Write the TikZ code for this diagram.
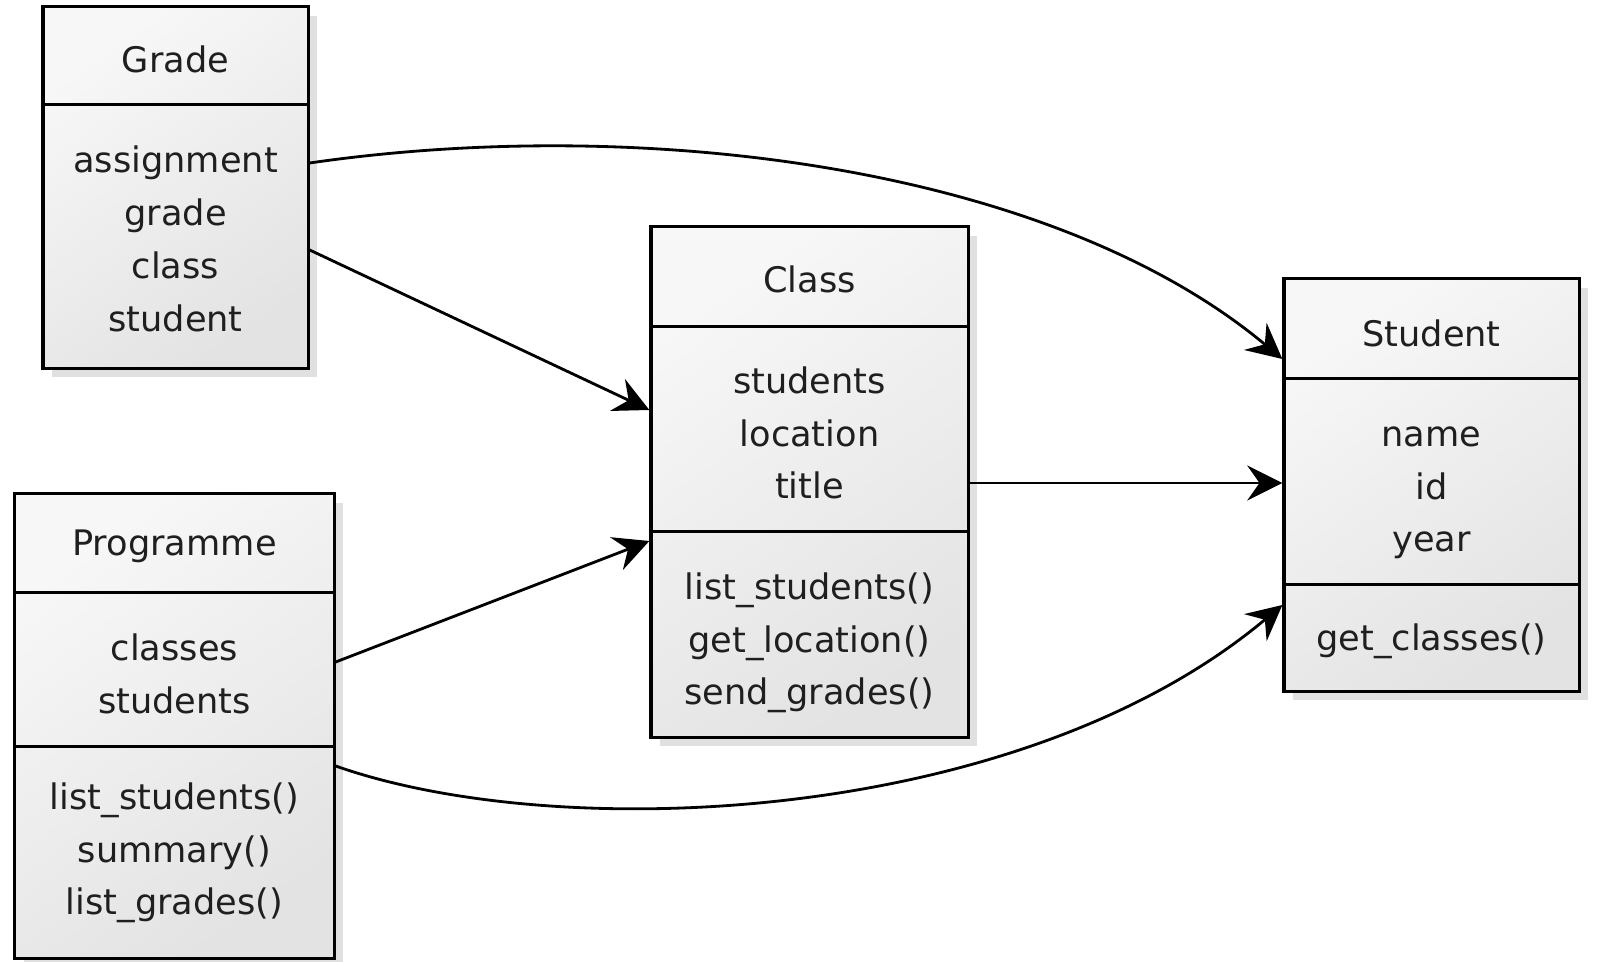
\documentclass[tikz,border=0pt]{standalone}
\usepackage{fontspec}
\setmainfont{DejaVu Sans}
\usetikzlibrary{arrows.meta,shadows,calc}
\newcommand{\classsep}[2]{\draw[sepline] ($(#1.north west)+(0,#2)$) -- ($(#1.north east)+(0,#2)$);}

\begin{document}
\begin{tikzpicture}[x=0.01cm,y=-0.01cm,
    classbox/.style={draw=black,line width=0.9pt,inner sep=0pt,
      top color=white!97!black,bottom color=white!89!black,shading angle=35,
      drop shadow={shadow xshift=2.5pt,shadow yshift=-2.5pt,opacity=.12,fill=black}},
    sepline/.style={black,line width=0.75pt},
    txt/.style={align=center,inner sep=0pt,text=black!88,font=\fontsize{10}{15}\selectfont},
    conn/.style={black,line width=0.8pt,-{Stealth[length=10pt,width=10pt,inset=3.5pt]}}]
    \useasboundingbox (0,0) rectangle (1601,962);

    % boxes
    \node[classbox,minimum width=2.65cm,minimum height=3.61cm] (grade) at (175.5,187.5) {};
    \node[classbox,minimum width=3.17cm,minimum height=5.10cm] (class) at (809.5,482) {};
    \node[classbox,minimum width=2.95cm,minimum height=4.12cm] (student) at (1431.5,485) {};
    \node[classbox,minimum width=3.19cm,minimum height=4.64cm] (programme) at (174.5,726) {};

    \classsep{grade}{99}
    \classsep{class}{101}
    \classsep{class}{306}
    \classsep{student}{101}
    \classsep{student}{307}
    \classsep{programme}{100}
    \classsep{programme}{254}

    % texts
    \node[txt] (gradename) at (175.5,59) {Grade};
    \node[txt] (gradeattr) at (175.5,239) {assignment\\grade\\class\\student};
    \node[txt] (classname) at (809.5,279) {Class};
    \node[txt] (classattr) at (809.5,433) {students\\location\\title};
    \node[txt] (classops) at (809.5,643) {list\_students()\\get\_location()\\send\_grades()};
    \node[txt] (studentname) at (1431.5,333) {Student};
    \node[txt] (studentattr) at (1431.5,493) {name\\id\\year};
    \node[txt] (studentops) at (1431.5,641) {get\_classes()};
    \node[txt] (progname) at (174.5,546) {Programme};
    \node[txt] (progattr) at (174.5,674) {classes\\students};
    \node[txt] (progops) at (174.5,853) {list\_students()\\summary()\\list\_grades()};

    % links
    \path
    ([shift={(0,62.5)}]grade.east) [conn] edge ([shift={(0,-72)}]class.west)
    ([shift={(0,-64)}]programme.east) [conn] edge ([shift={(0,59)}]class.west)
    ([shift={(0,1)}]class.east) [conn] edge ([shift={(0,-2)}]student.west);

    \draw[conn] ([shift={(0,-24.5)}]grade.east) .. controls (640,115) and (1050,165) .. ([shift={(0,-126)}]student.west);
    \draw[conn] ([shift={(0,40)}]programme.east) .. controls (560,845) and (1020,825) .. ([shift={(0,120)}]student.west);
\end{tikzpicture}
\end{document}
